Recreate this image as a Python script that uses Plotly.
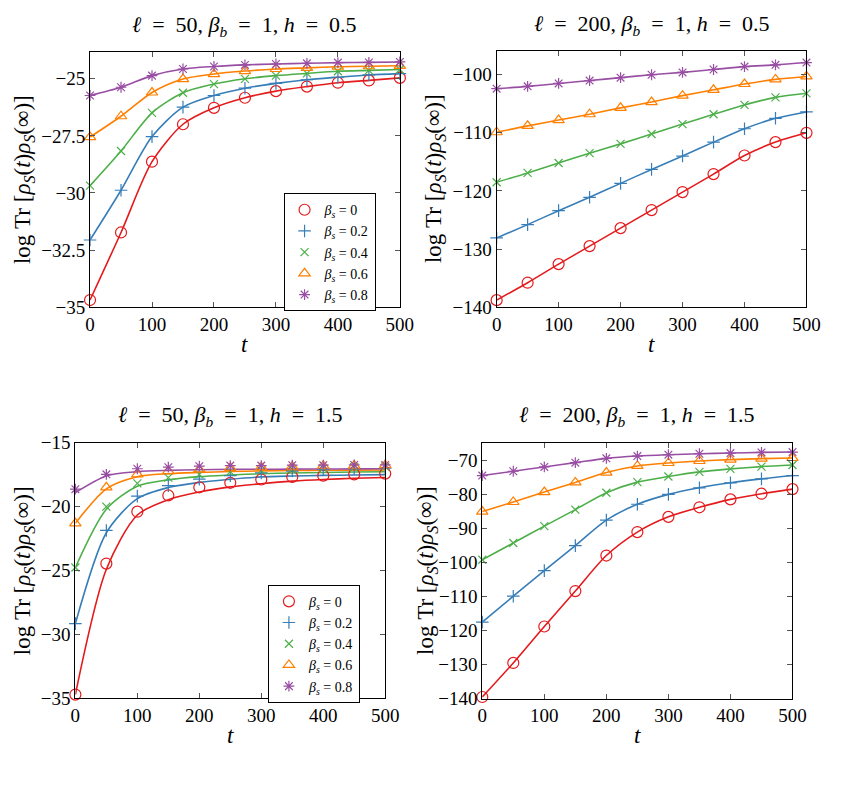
import plotly.graph_objects as go

t = [0, 50, 100, 150, 200, 250, 300, 350, 400, 450, 500]
beta_s_labels = ["0", "0.2", "0.4", "0.6", "0.8"]
colors = ["#e41a1c", "#377eb8", "#4daf4a", "#ff7f00", "#984ea3"]
symbols = ["circle-open", "cross-thin-open", "x-thin-open", "triangle-up-open", "asterisk-open"]
sizes = [11, 9, 8, 10, 9]

# l=50, h=0.5
tl_0 = [-34.69, -31.73, -28.63, -26.99, -26.27, -25.83, -25.54, -25.34, -25.17, -25.07, -24.96]
tl_2 = [-32.06, -29.88, -27.53, -26.24, -25.73, -25.41, -25.20, -25.04, -24.93, -24.83, -24.77]
tl_4 = [-29.68, -28.16, -26.49, -25.61, -25.23, -25.00, -24.86, -24.76, -24.67, -24.63, -24.59]
tl_6 = [-27.55, -26.64, -25.60, -25.01, -24.79, -24.66, -24.57, -24.52, -24.47, -24.45, -24.43]
tl_8 = [-25.73, -25.37, -24.86, -24.57, -24.46, -24.39, -24.35, -24.32, -24.29, -24.28, -24.26]

# l=200, h=0.5
tr_0 = [-138.8, -135.8, -132.6, -129.5, -126.4, -123.3, -120.2, -117.1, -113.9, -111.6, -110.0]
tr_2 = [-128.1, -125.8, -123.4, -121.1, -118.7, -116.3, -114.0, -111.6, -109.3, -107.5, -106.4]
tr_4 = [-118.5, -116.9, -115.2, -113.5, -111.9, -110.2, -108.5, -106.8, -105.2, -103.9, -103.2]
tr_6 = [-109.9, -108.8, -107.8, -106.8, -105.7, -104.7, -103.6, -102.6, -101.6, -100.8, -100.3]
tr_8 = [-102.4, -102.0, -101.5, -101.0, -100.5, -100.0, -99.6, -99.1, -98.6, -98.3, -97.9]

# l=50, h=1.5 (markers)
bl_0 = [-34.70, -24.45, -20.39, -19.12, -18.48, -18.13, -17.87, -17.67, -17.57, -17.47, -17.41]
bl_2 = [-29.15, -21.86, -19.17, -18.35, -17.85, -17.57, -17.36, -17.21, -17.11, -17.03, -16.98]
bl_4 = [-24.76, -20.00, -18.18, -17.72, -17.47, -17.26, -17.16, -17.08, -16.98, -16.91, -16.86]
bl_6 = [-21.30, -18.48, -17.47, -17.21, -17.08, -16.96, -16.91, -16.86, -16.80, -16.78, -16.75]
bl_8 = [-18.63, -17.47, -17.03, -16.91, -16.83, -16.78, -16.78, -16.75, -16.75, -16.73, -16.73]
# l=50, h=1.5 (curves)
bl_line_0 = [-34.70, -24.90, -20.65, -19.45, -18.85, -18.45, -18.20, -18.00, -17.87, -17.78, -17.72]
bl_line_2 = [-29.15, -22.04, -19.37, -18.50, -18.10, -17.85, -17.67, -17.60, -17.55, -17.52, -17.49]
bl_line_4 = [-24.76, -20.20, -18.40, -17.90, -17.65, -17.52, -17.42, -17.36, -17.32, -17.29, -17.27]
bl_line_6 = [-21.30, -18.60, -17.65, -17.42, -17.32, -17.25, -17.20, -17.17, -17.15, -17.14, -17.13]
bl_line_8 = [-18.89, -17.59, -17.26, -17.16, -17.11, -17.08, -17.07, -17.06, -17.05, -17.04, -17.03]

# l=200, h=1.5
br_0 = [-139.5, -129.5, -118.8, -108.4, -97.96, -91.07, -86.6, -83.79, -81.46, -79.8, -78.45]
br_2 = [-117.5, -109.9, -102.4, -95.05, -87.57, -82.9, -80.0, -78.06, -76.6, -75.44, -74.47]
br_4 = [-99.2, -94.27, -89.32, -84.47, -79.51, -76.4, -74.76, -73.4, -72.52, -71.84, -71.36]
br_6 = [-85.05, -82.23, -79.32, -76.5, -73.59, -71.65, -70.78, -70.19, -69.8, -69.51, -69.32]
br_8 = [-74.47, -73.2, -71.94, -70.68, -69.42, -68.74, -68.35, -68.06, -67.86, -67.67, -67.57]

S = "\u2002"  # en space, imitates math spacing
s = "\u2005"  # four-per-em space
panels = [
    dict(marks=[tl_0, tl_2, tl_4, tl_6, tl_8], lines=[tl_0, tl_2, tl_4, tl_6, tl_8],
         title=f"<i>ℓ</i>{S}={S}50,{s}<i>β</i><sub><i>b</i></sub>{S}={S}1,{s}<i>h</i>{S}={S}0.5",
         xd=[87, 404], yd=[43, 305], yr=[-35, -23.82], tv=[-35, -32.5, -30, -27.5, -25],
         legend="legend", ylx=20),
    dict(marks=[tr_0, tr_2, tr_4, tr_6, tr_8], lines=[tr_0, tr_2, tr_4, tr_6, tr_8],
         title=f"<i>ℓ</i>{S}={S}200,{s}<i>β</i><sub><i>b</i></sub>{S}={S}1,{s}<i>h</i>{S}={S}0.5",
         xd=[503, 820], yd=[42, 305], yr=[-140, -95.9], tv=[-140, -130, -120, -110, -100],
         legend=None, ylx=440),
    dict(marks=[bl_0, bl_2, bl_4, bl_6, bl_8], lines=[bl_line_0, bl_line_2, bl_line_4, bl_line_6, bl_line_8],
         title=f"<i>ℓ</i>{S}={S}50,{s}<i>β</i><sub><i>b</i></sub>{S}={S}1,{s}<i>h</i>{S}={S}1.5",
         xd=[72, 389], yd=[444.3, 706.7], yr=[-35, -15], tv=[-35, -30, -25, -20, -15],
         legend="legend2", ylx=19),
    dict(marks=[br_0, br_2, br_4, br_6, br_8], lines=[br_0, br_2, br_4, br_6, br_8],
         title=f"<i>ℓ</i>{S}={S}200,{s}<i>β</i><sub><i>b</i></sub>{S}={S}1,{s}<i>h</i>{S}={S}1.5",
         xd=[488.3, 805.7], yd=[444.3, 707], yr=[-140, -64.85], tv=[-140, -130, -120, -110, -100, -90, -80, -70],
         legend=None, ylx=432),
]

W, H = 841, 811
FONT = "Liberation Serif, Times New Roman, serif"
fig = go.Figure()
annotations = []
ylab = f"log{s}Tr{s}[<i>ρ</i><sub><i>S</i></sub>(<i>t</i>)<i>ρ</i><sub><i>S</i></sub>(∞)]"

for i, p in enumerate(panels):
    n = "" if i == 0 else str(i + 1)
    xa, ya = "x" + n, "y" + n
    for k in range(5):
        fig.add_trace(go.Scatter(x=t, y=p["lines"][k], mode="lines", xaxis=xa, yaxis=ya,
                                 line=dict(color=colors[k], width=1.6, shape="spline", smoothing=0.8),
                                 showlegend=False, hoverinfo="skip"))
    for k in range(5):
        tr = dict(x=t, y=p["marks"][k], mode="markers", xaxis=xa, yaxis=ya,
                  marker=dict(symbol=symbols[k], size=sizes[k], color=colors[k],
                              line=dict(color=colors[k], width=1.2)),
                  name=f"<i>β</i><sub><i>s</i></sub>{s}={s}" + beta_s_labels[k],
                  showlegend=p["legend"] is not None, cliponaxis=False)
        if p["legend"]:
            tr["legend"] = p["legend"]
        fig.add_trace(go.Scatter(**tr))
    x0, x1 = p["xd"]
    y0, y1 = p["yd"]
    axcommon = dict(showline=True, linecolor="black", linewidth=1, mirror="ticks",
                    ticks="inside", ticklen=5, tickcolor="#555", showgrid=False, zeroline=False,
                    tickfont=dict(family=FONT, size=19, color="black"))
    fig.update_layout(**{
        "xaxis" + n: dict(domain=[x0 / W, x1 / W], range=[0, 500], anchor=ya,
                          tickvals=[0, 100, 200, 300, 400, 500], **axcommon),
        "yaxis" + n: dict(domain=[1 - y1 / H, 1 - y0 / H], range=p["yr"], anchor=xa,
                          tickvals=p["tv"], **axcommon),
    })
    cx = (x0 + x1) / 2
    annotations.append(dict(text=p["title"], x=cx / W, y=1 - (y0 - 27) / H, xref="paper", yref="paper",
                            showarrow=False, font=dict(family=FONT, size=22, color="black"),
                            xanchor="center", yanchor="middle"))
    annotations.append(dict(text="<i>t</i>", x=cx / W, y=1 - (y1 + 38) / H, xref="paper", yref="paper",
                            showarrow=False, font=dict(family=FONT, size=23, color="black"),
                            xanchor="center", yanchor="middle"))
    annotations.append(dict(text=ylab, x=p["ylx"] / W, y=1 - ((y0 + y1) / 2) / H, xref="paper", yref="paper",
                            showarrow=False, textangle=-90, font=dict(family=FONT, size=23, color="black"),
                            xanchor="center", yanchor="middle"))

legend_style = dict(bordercolor="black", borderwidth=1, bgcolor="white",
                    font=dict(family=FONT, size=14, color="black"),
                    xanchor="left", yanchor="top", tracegroupgap=0, itemwidth=30)
fig.update_layout(
    width=W, height=H, margin=dict(l=0, r=0, t=0, b=0),
    paper_bgcolor="white", plot_bgcolor="white",
    annotations=annotations,
    legend=dict(x=285 / W, y=1 - 188 / H, **legend_style),
    legend2=dict(x=269 / W, y=1 - 590 / H, **legend_style),
)

fig.write_html("out.html")
